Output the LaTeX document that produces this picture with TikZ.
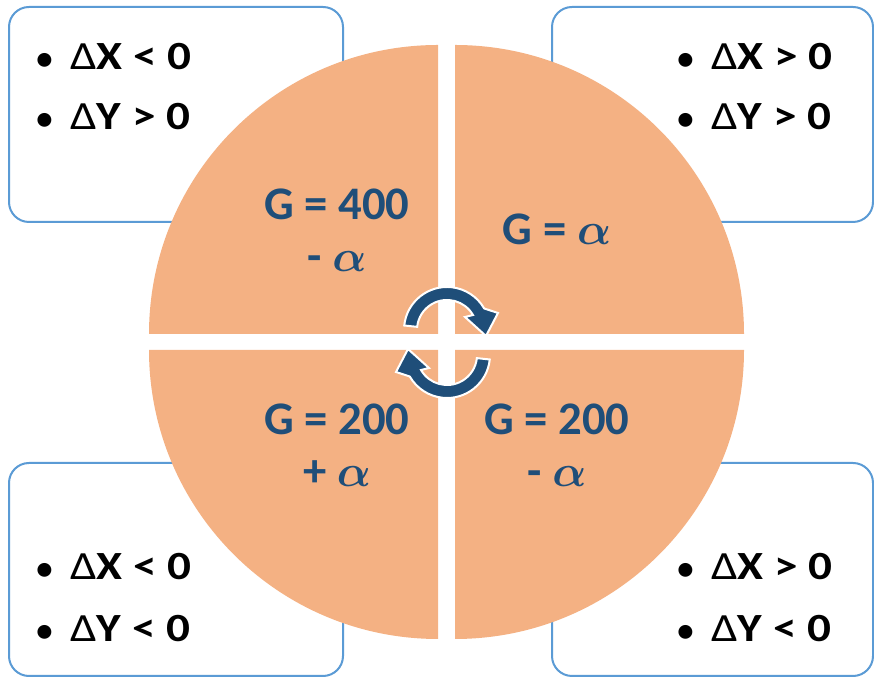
\documentclass[tikz,border=0pt]{standalone}
\usepackage{fontspec}
\setmainfont{Carlito}
\newfontfamily\condfont{Carlito}[FakeStretch=1.18]
\newfontfamily\gfont{Carlito}
\usepackage{graphicx}
\usepackage{xcolor}
\usepackage{tikz}
\usetikzlibrary{positioning}
\usetikzlibrary{calc}

\definecolor{boxblue}{RGB}{91,155,213}
\definecolor{pieorange}{RGB}{244,177,131}
\definecolor{gblue}{RGB}{31,78,121}

\newcommand{\al}{\scalebox{1.35}{\boldmath$\alpha$}}
\newcommand{\bul}{\makebox[25.5pt][l]{\normalfont\bfseries\fontsize{24.5}{29}\selectfont •}}

\begin{document}
\begin{tikzpicture}[x=0.75pt,y=0.75pt]
			\tikzstyle{condbox}=[draw=boxblue,line width=1.5pt,rounded corners=15pt,fill=white]
			\tikzstyle{quarter}=[fill=pieorange]
			\tikzstyle{turn}=[fill=gblue,draw=white,line width=1.5pt]
			\tikzstyle{cond}=[inner sep=0pt,anchor=base west,font=\condfont\bfseries\fontsize{30}{35}\selectfont]
			\tikzstyle{glabel}=[inner sep=0pt,anchor=base,align=center,text=gblue,font=\gfont\bfseries\fontsize{35}{39}\selectfont]
			
			\useasboundingbox (0,0) rectangle (874,677);
			
			% boxes
			\path[condbox] (9,455) rectangle (343,670);
			\path[condbox] (552,455) rectangle (873,670);
			\path[condbox] (9,1) rectangle (343,214);
			\path[condbox] (552,1) rectangle (873,214);
			
			% the four quarters
			\fill[quarter] (438,343) -- ++(180:289) arc[start angle=180,end angle=90,radius=289] -- cycle;
			\fill[quarter] (455,343) -- ++(90:289) arc[start angle=90,end angle=0,radius=289] -- cycle;
			\fill[quarter] (438,327) -- ++(180:289) arc[start angle=180,end angle=270,radius=289] -- cycle;
			\fill[quarter] (455,327) -- ++(270:289) arc[start angle=270,end angle=360,radius=289] -- cycle;
			
			% turning arrows
			\begin{scope}[shift={(447,347)}]
				\path[turn] (174:43) arc[start angle=174,end angle=30,radius=43] -- (51,17) -- (39,-6) -- (18,13) -- (30:30) arc[start angle=30,end angle=174,radius=30] -- cycle;
			\end{scope}
			\begin{scope}[shift={(447,322)},rotate=180]
				\path[turn] (174:43) arc[start angle=174,end angle=30,radius=43] -- (51,17) -- (39,-6) -- (18,13) -- (30:30) arc[start angle=30,end angle=174,radius=30] -- cycle;
			\end{scope}
			
			% G values (base = last line)
			\node[glabel] (gtl) at (337,405) {G = 400\\- \al};
			\node[glabel] (gtr) at (557,432) {G = \al};
			\node[glabel] (gbl) at (337,190) {G = 200\\+ \al};
			\node[glabel] (gbr) at (557,190) {G = 200\\- \al};
			
			% conditions
			\node[cond] (tlx) at (36,607) {\bul{\mdseries Δ}X < 0};
			\node[cond] (tly) at (36,547) {\bul{\mdseries Δ}Y > 0};
			\node[cond] (trx) at (677,607) {\bul{\mdseries Δ}X > 0};
			\node[cond] (try) at (677,547) {\bul{\mdseries Δ}Y > 0};
			\node[cond] (blx) at (36,97) {\bul{\mdseries Δ}X < 0};
			\node[cond] (bly) at (36,35) {\bul{\mdseries Δ}Y < 0};
			\node[cond] (brx) at (677,97) {\bul{\mdseries Δ}X > 0};
			\node[cond] (bry) at (677,35) {\bul{\mdseries Δ}Y < 0};
\end{tikzpicture}
\end{document}
